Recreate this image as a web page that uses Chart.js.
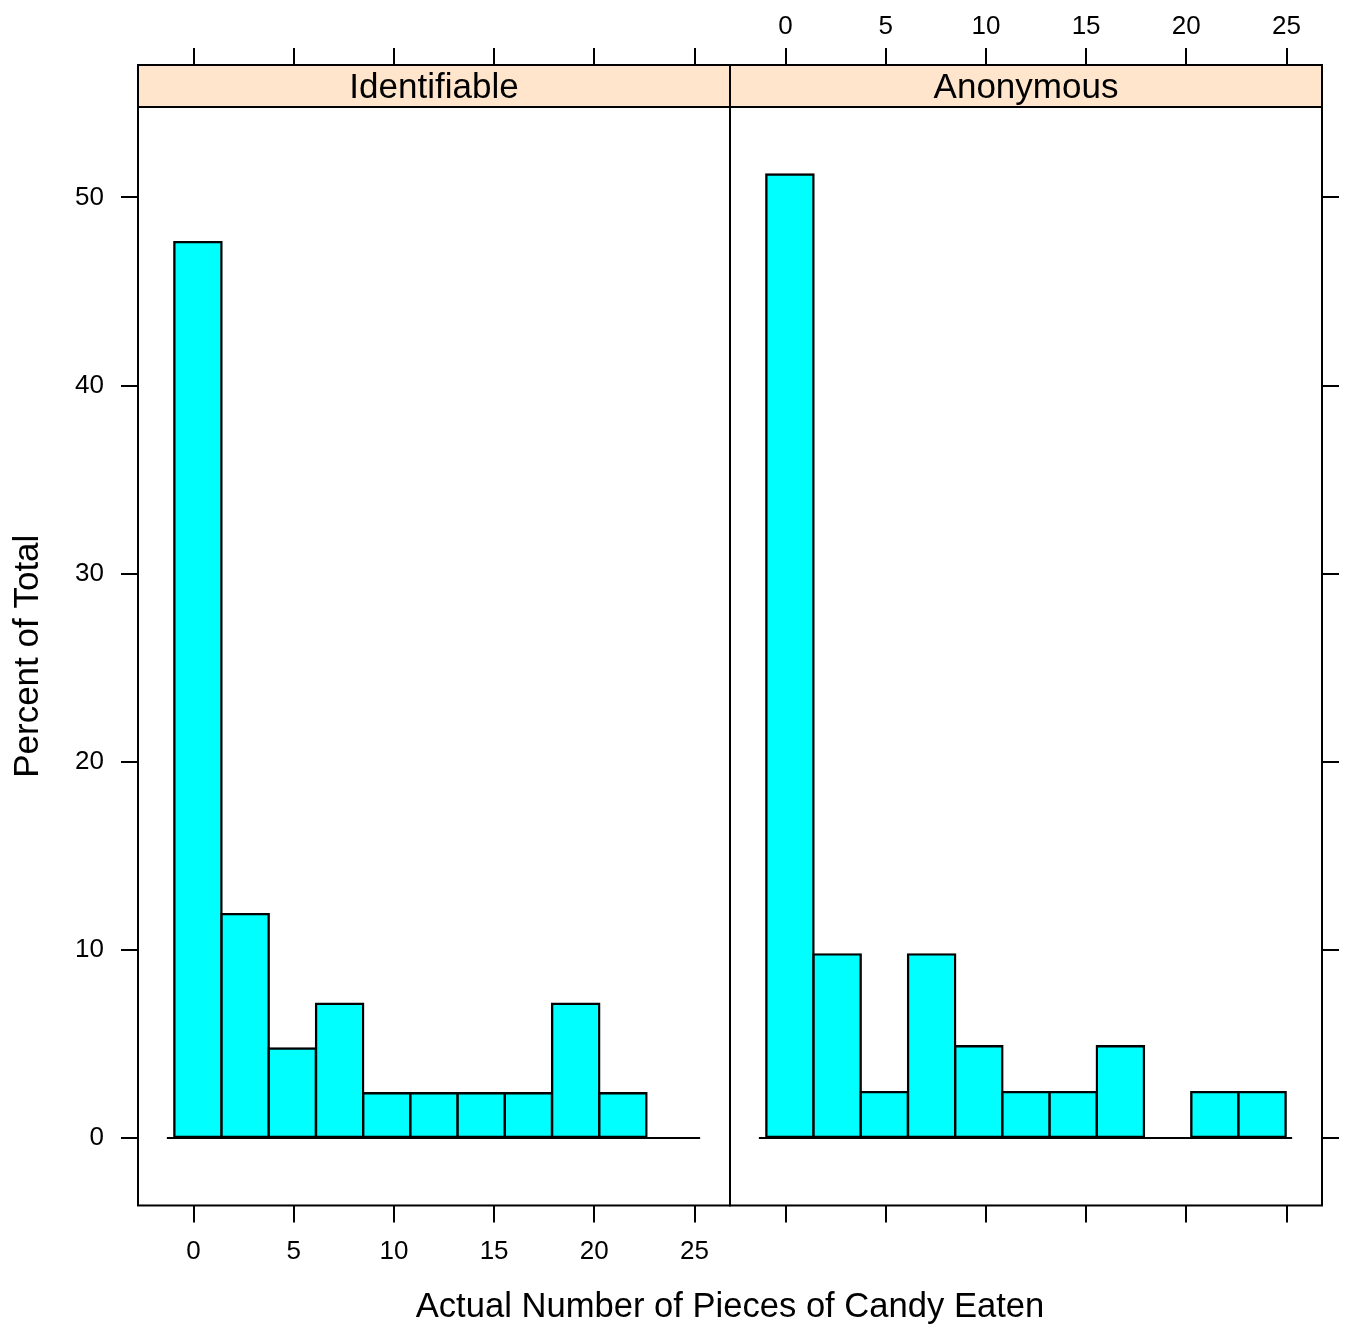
<!DOCTYPE html>
<html lang="en">
<head>
<meta charset="utf-8">
<title>Actual Number of Pieces of Candy Eaten</title>
<script src="https://cdn.jsdelivr.net/npm/chart.js"></script>
<style>
    html, body { margin: 0; padding: 0; background: #ffffff; }
    canvas { display: block; }
</style>
</head>
<body>
<canvas id="histChart" width="1345" height="1333"></canvas>
<script>
    // strip labels, one per panel
    const panels = ['Identifiable', 'Anonymous'];

    // histogram bin edges (same breaks in both panels)
    const binEdges = [-0.96, 1.40, 3.75, 6.11, 8.47, 10.82, 13.18, 15.53, 17.89, 20.25, 22.60, 24.96];

    // percent of total in each bin
    const identifiable = [47.62, 11.90, 4.76, 7.14, 2.38, 2.38, 2.38, 2.38, 7.14, 2.38, 0];
    const anonymous = [51.22, 9.76, 2.44, 9.76, 4.88, 2.44, 2.44, 4.88, 0, 2.44, 2.44];

    // zero line drawn under the bars
    const baseline = [-1.33, 25.28];

    // ticks and axis limits
    const xTicks = [0, 5, 10, 15, 20, 25];
    const yTicks = [0, 10, 20, 30, 40, 50];
    const xRange = [-2.77, 26.77];
    const yRange = [-3.585, 54.805];

    const black = '#000000';
    const cyan = '#00FFFF';
    const stripColor = '#FFE5CC';
    const stripHeight = 42;
    const fontFamily = '"Liberation Sans", Arial, Helvetica, sans-serif';

    Chart.defaults.font.family = fontFamily;
    Chart.defaults.color = black;

    // bar at the middle of each bin
    function binData(values) {
        return values.map(function (v, i) {
            return { x: (binEdges[i] + binEdges[i + 1]) / 2, y: v };
        });
    }

    function xAxis(position, showLabels, tickLength, padding, height) {
        return {
            type: 'linear',
            position: position,
            stack: 'panels',
            min: xRange[0],
            max: xRange[1],
            offset: false,
            afterBuildTicks: function (s) { s.ticks = xTicks.map(v => ({ value: v })); },
            afterFit: function (s) { s.height = height; },
            grid: { drawOnChartArea: false, drawTicks: true, offset: false, tickLength: tickLength, color: black, lineWidth: 2 },
            border: { display: false },
            ticks: { display: showLabels, padding: padding, color: black, font: { size: 26 }, maxRotation: 0, autoSkip: false }
        };
    }

    function yAxis(position, showLabels, width) {
        return {
            type: 'linear',
            position: position,
            min: yRange[0],
            max: yRange[1],
            afterBuildTicks: function (s) { s.ticks = yTicks.map(v => ({ value: v })); },
            afterFit: function (s) { s.width = width; },
            grid: { drawOnChartArea: false, drawTicks: true, tickLength: 17, color: black, lineWidth: 2 },
            border: { display: false },
            ticks: { display: showLabels, padding: 17, color: black, font: { size: 26 }, autoSkip: false }
        };
    }

    // strip above each panel and the panel frames
    const stripPlugin = {
        id: 'strips',
        beforeDatasetsDraw(chart) {
            const { ctx, chartArea, scales } = chart;
            const top = chartArea.top - stripHeight;
            ['x1', 'x2'].forEach(function (id, i) {
                const s = scales[id];
                ctx.save();
                ctx.fillStyle = stripColor;
                ctx.fillRect(s.left, top, s.right - s.left, stripHeight);
                ctx.fillStyle = black;
                ctx.font = '35px ' + fontFamily;
                ctx.textAlign = 'center';
                ctx.textBaseline = 'middle';
                ctx.fillText(panels[i], (s.left + s.right) / 2, top + stripHeight / 2 + 2);
                ctx.restore();
            });
        },
        afterDraw(chart) {
            const { ctx, chartArea, scales } = chart;
            const top = chartArea.top - stripHeight;
            ctx.save();
            ctx.strokeStyle = black;
            ctx.lineWidth = 2;
            ['x1', 'x2'].forEach(function (id) {
                const s = scales[id];
                ctx.strokeRect(s.left, top, s.right - s.left, chartArea.bottom - top);
                ctx.beginPath();
                ctx.moveTo(s.left, chartArea.top);
                ctx.lineTo(s.right, chartArea.top);
                ctx.stroke();
            });
            ctx.restore();
        }
    };

    const barStyle = {
        type: 'bar',
        yAxisID: 'yL',
        backgroundColor: c => (c.raw && c.raw.y > 0) ? cyan : 'rgba(0,0,0,0)',
        borderColor: black,
        borderWidth: 2.4,
        borderSkipped: false,
        inflateAmount: 1.2,
        grouped: false,
        barPercentage: 1,
        categoryPercentage: 1,
        order: 1
    };

    const lineStyle = {
        type: 'line',
        yAxisID: 'yL',
        borderColor: black,
        borderWidth: 2,
        pointRadius: 0,
        order: 0
    };

    new Chart(document.getElementById('histChart'), {
        type: 'bar',
        data: {
            datasets: [
                Object.assign({ label: panels[0], data: binData(identifiable), xAxisID: 'x1' }, barStyle),
                Object.assign({ label: panels[1], data: binData(anonymous), xAxisID: 'x2' }, barStyle),
                Object.assign({ data: baseline.map(x => ({ x: x, y: 0 })), xAxisID: 'x1' }, lineStyle),
                Object.assign({ data: baseline.map(x => ({ x: x, y: 0 })), xAxisID: 'x2' }, lineStyle)
            ]
        },
        options: {
            responsive: false,
            devicePixelRatio: 1,
            animation: false,
            layout: { padding: 0, autoPadding: false },
            scales: {
                x1: xAxis('bottom', true, 17, 14, 70),
                x2: xAxis('bottom', false, 17, 14, 70),
                // top boxes are laid out in reverse order
                x2t: xAxis('top', true, 59, 6, 107),
                x1t: xAxis('top', false, 59, 6, 107),
                yL: Object.assign(yAxis('left', true, 138), {
                    title: { display: true, text: 'Percent of Total', color: black, font: { size: 35 }, padding: { top: 7, bottom: 0 } }
                }),
                yR: yAxis('right', false, 23)
            },
            plugins: {
                legend: { display: false },
                tooltip: { enabled: false },
                title: {
                    display: true,
                    position: 'bottom',
                    fullSize: false,
                    text: 'Actual Number of Pieces of Candy Eaten',
                    color: black,
                    font: { size: 34.6, weight: 'normal' },
                    padding: { top: 11, bottom: 5 }
                }
            }
        },
        plugins: [stripPlugin]
    });
</script>
</body>
</html>
